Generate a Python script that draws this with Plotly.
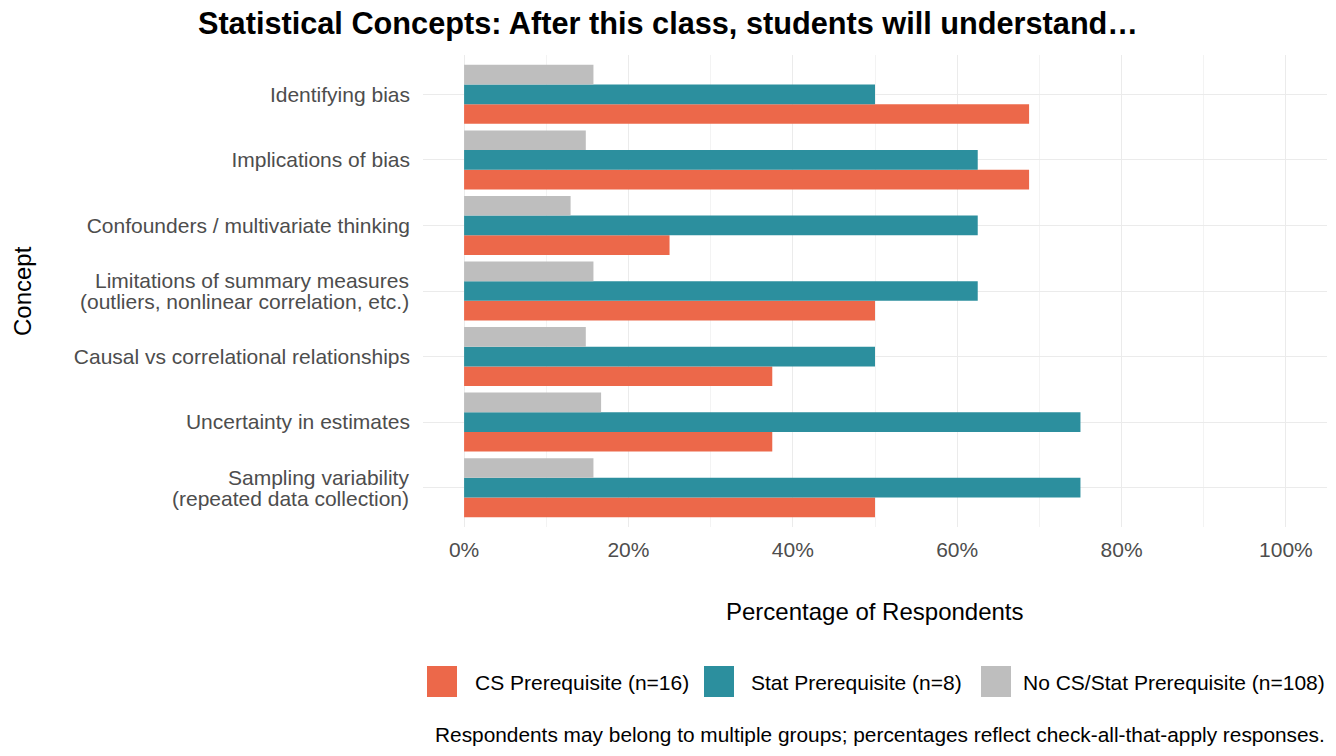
import plotly.graph_objects as go

concepts = [
    "Sampling variability<br>(repeated data collection)",
    "Uncertainty in estimates",
    "Causal vs correlational relationships",
    "Limitations of summary measures<br>(outliers, nonlinear correlation, etc.)",
    "Confounders / multivariate thinking",
    "Implications of bias",
    "Identifying bias",
]
cs_pct = [50.0, 37.5, 37.5, 50.0, 25.0, 68.75, 68.75]
stat_pct = [75.0, 75.0, 50.0, 62.5, 62.5, 62.5, 50.0]
none_pct = [15.74, 16.67, 14.81, 15.74, 12.96, 14.81, 15.74]

groups = ["CS Prerequisite (n=16)", "Stat Prerequisite (n=8)", "No CS/Stat Prerequisite (n=108)"]
colors = ["#EC684A", "#2C8F9E", "#BEBEBE"]
values = [cs_pct, stat_pct, none_pct]

fig = go.Figure()
for name, col, vals in zip(groups, colors, values):
    fig.add_trace(go.Bar(
        y=concepts, x=vals, name=name, orientation="h",
        marker=dict(color=col, line=dict(width=0)),
        showlegend=False,
    ))

W, H = 1336, 756
L, R, T, B = 423, 9, 55, 229
PW, PH = W - L - R, H - T - B
font = "Liberation Sans, Arial, sans-serif"
tick_color = "#4D4D4D"


def px(x):
    return (x - L) / PW


def py(y):
    return (H - B - y) / PH


# single-line labels as ticks; two-line labels drawn line by line (tighter leading)
ticktext = [c if "<br>" not in c else "" for c in concepts]

fig.update_layout(
    width=W, height=H,
    margin=dict(l=L, r=R, t=T, b=B),
    paper_bgcolor="white", plot_bgcolor="white",
    barmode="group", bargap=0.1, bargroupgap=0,
    font=dict(family=font, size=21, color=tick_color),
    title=dict(text="<b>Statistical Concepts: After this class, students will understand…</b>",
               x=0.5, xanchor="center", y=1 - 23 / H, yanchor="middle",
               font=dict(family=font, size=30.7, color="black")),
    xaxis=dict(
        range=[-5, 105], tickvals=[0, 20, 40, 60, 80, 100],
        ticktext=["0%", "20%", "40%", "60%", "80%", "100%"],
        showgrid=True, gridcolor="#EBEBEB", gridwidth=1.3, zeroline=False,
        showline=False, ticks="", tickfont=dict(size=21, color=tick_color),
        ticklabelstandoff=8,
        minor=dict(tickvals=[10, 30, 50, 70, 90], showgrid=True, gridcolor="#F3F3F3", gridwidth=1),
    ),
    yaxis=dict(
        categoryorder="array", categoryarray=concepts, range=[-0.6, 6.6],
        tickvals=concepts, ticktext=ticktext,
        showgrid=True, gridcolor="#EBEBEB", gridwidth=1.3, zeroline=False,
        showline=False, ticks="", tickfont=dict(size=21, color=tick_color),
        ticklabelstandoff=12,
    ),
)

for c in concepts:
    if "<br>" in c:
        lines = c.split("<br>")
        for i, line in enumerate(lines):
            fig.add_annotation(xref="paper", yref="y", x=px(411), y=c,
                               yshift=10.5 - 21 * i,
                               xanchor="right", yanchor="middle", showarrow=False,
                               text=line, font=dict(family=font, size=21, color=tick_color))

# axis titles
fig.add_annotation(xref="paper", yref="paper", x=px(875), y=py(611),
                   xanchor="center", yanchor="middle", showarrow=False,
                   text="Percentage of Respondents", font=dict(family=font, size=24, color="black"))
fig.add_annotation(xref="paper", yref="paper", x=px(22), y=py(291),
                   xanchor="center", yanchor="middle", showarrow=False, textangle=-90,
                   text="Concept", font=dict(family=font, size=24, color="black"))

# custom legend (large swatches, like the reference)
legend_x = [427, 704, 981]
text_x = [473, 749, 1021]
for lx, tx, col, name in zip(legend_x, text_x, colors, groups):
    fig.add_shape(type="rect", xref="paper", yref="paper",
                  x0=px(lx), x1=px(lx + 30), y0=py(697), y1=py(666),
                  fillcolor=col, line=dict(width=0))
    fig.add_annotation(xref="paper", yref="paper", x=px(tx), y=py(682),
                       xanchor="left", yanchor="middle", showarrow=False,
                       text=name, font=dict(family=font, size=21, color="black"))

fig.add_annotation(xref="paper", yref="paper", x=px(1327), y=py(734),
                   xanchor="right", yanchor="middle", showarrow=False,
                   text="Respondents may belong to multiple groups; percentages reflect check-all-that-apply responses.",
                   font=dict(family=font, size=20.85, color="black"))

fig.write_html("out.html")
